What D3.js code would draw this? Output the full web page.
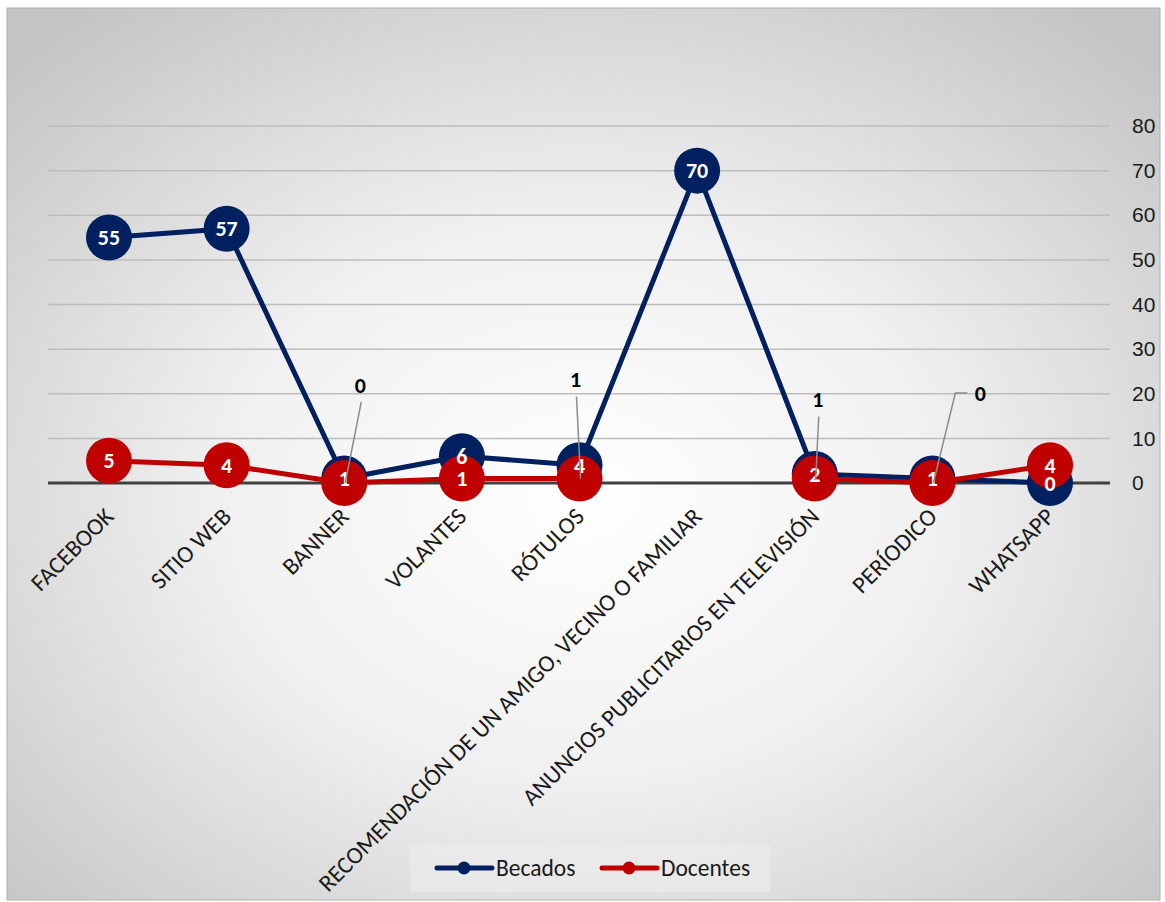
<!DOCTYPE html>
<head>
<meta charset="utf-8">
<title>Medios</title>
<style>
body { margin: 0; font-family: Carlito, "Open Sans", "Liberation Sans", sans-serif; }
.grid line { stroke: #bdbdbd; stroke-width: 1.5; }
.axis text { font-size: 21px; fill: #1a1a1a; }
</style>
<script src="https://d3js.org/d3.v7.min.js"></script>
</head>
<body>
<script>
// data
var categories = ["FACEBOOK", "SITIO WEB", "BANNER", "VOLANTES", "RÓTULOS",
  "RECOMENDACIÓN DE UN AMIGO, VECINO O FAMILIAR", "ANUNCIOS PUBLICITARIOS EN TELEVISIÓN",
  "PERÍODICO", "WHATSAPP"];
var becados = [55, 57, 1, 6, 4, 70, 2, 1, 0];
var docentes = [5, 4, 0, 1, 1, null, 1, 0, 4];
var yTicks = [0, 10, 20, 30, 40, 50, 60, 70, 80];
var seriesNames = ["Becados", "Docentes"];

// label placement for docentes labels that Excel moved out of the way (px offsets)
var movedLabels = { 2: [16, -98], 4: [-4, -99], 6: [3, -79], 7: [48, -90] };

var width = 1165, height = 902;
var blue = "#002060", red = "#c00000";

var svg = d3.select("body").append("svg")
  .attr("width", width).attr("height", height);

var defs = svg.append("defs");
var grad = defs.append("radialGradient").attr("id", "bg")
  .attr("cx", "50%").attr("cy", "55%").attr("r", "70%");
grad.append("stop").attr("offset", "0%").attr("stop-color", "#ffffff");
grad.append("stop").attr("offset", "45%").attr("stop-color", "#f0f0f0");
grad.append("stop").attr("offset", "100%").attr("stop-color", "#c4c4c4");

svg.append("rect").attr("x", 7).attr("y", 8).attr("width", 1153).attr("height", 892)
  .attr("fill", "url(#bg)").attr("stroke", "#b0b0b0").attr("stroke-width", 1);

var x = d3.scalePoint().domain(categories).range([109, 1050]);
var y = d3.scaleLinear().domain([0, 80]).range([483, 126]);

// gridlines
svg.append("g").attr("class", "grid")
  .selectAll("line").data(yTicks.filter(function(d) { return d > 0; }))
  .enter().append("line")
  .attr("x1", 48).attr("x2", 1110)
  .attr("y1", function(d) { return y(d); }).attr("y2", function(d) { return y(d); });

// y axis on the right
var yAxis = d3.axisRight(y).tickValues(yTicks).tickSize(0).tickPadding(0);
var ya = svg.append("g").attr("class", "axis")
  .attr("transform", "translate(1132,0)").call(yAxis);
ya.select(".domain").remove();

// zero line
svg.append("line").attr("x1", 48).attr("x2", 1110)
  .attr("y1", y(0)).attr("y2", y(0))
  .attr("stroke", "#404040").attr("stroke-width", 3);

// x labels
svg.append("g").selectAll("text").data(categories).enter().append("text")
  .attr("transform", function(d) { return "translate(" + (x(d) + 6) + ",518) rotate(-45)"; })
  .attr("text-anchor", "end")
  .attr("font-size", "24px")
  .attr("fill", "#1a1a1a")
  .text(function(d) { return d; });

var line = d3.line()
  .defined(function(d) { return d != null; })
  .x(function(d, i) { return x(categories[i]); })
  .y(function(d) { return y(d); });

function drawSeries(vals, color) {
  svg.append("path").datum(vals)
    .attr("fill", "none").attr("stroke", color).attr("stroke-width", 5)
    .attr("stroke-linejoin", "round")
    .attr("d", line);
  svg.append("g").selectAll("circle")
    .data(vals.map(function(v, i) { return { v: v, i: i }; }).filter(function(d) { return d.v != null; }))
    .enter().append("circle")
    .attr("cx", function(d) { return x(categories[d.i]); })
    .attr("cy", function(d) { return y(d.v); })
    .attr("r", 23)
    .attr("fill", color);
}
drawSeries(becados, blue);
drawSeries(docentes, red);

// data labels
function labels(vals, moved) {
  var g = svg.append("g");
  vals.forEach(function(v, i) {
    if (v == null) return;
    var px = x(categories[i]), py = y(v);
    var off = moved && moved[i];
    if (off) {
      var lx = px + off[0], ly = py + off[1];
      var pts;
      if (off[0] > 30) pts = [[lx - 13, ly], [lx - 25, ly], [px + 1, py]];
      else pts = [[lx + 1, ly + 17], [px + 1, py]];
      g.append("path").attr("d", d3.line()(pts))
        .attr("fill", "none").attr("stroke", "#8c8c8c").attr("stroke-width", 1.5);
      g.append("text").attr("x", lx).attr("y", ly).attr("dy", "0.35em")
        .attr("text-anchor", "middle").attr("font-size", "22px").attr("font-weight", "bold")
        .attr("fill", "#000").text(v);
    } else {
      g.append("text").attr("x", px).attr("y", py).attr("dy", "0.35em")
        .attr("text-anchor", "middle").attr("font-size", "22px").attr("font-weight", "bold")
        .attr("fill", "#fff").text(v);
    }
  });
}
labels(becados, null);
labels(docentes, movedLabels);

// legend
var lg = svg.append("g");
lg.append("rect").attr("x", 410).attr("y", 845).attr("width", 360).attr("height", 47)
  .attr("fill", "#ececec").attr("opacity", 0.6);
[blue, red].forEach(function(c, i) {
  var lx = 437 + i * 165;
  lg.append("line").attr("x1", lx).attr("x2", lx + 55).attr("y1", 868).attr("y2", 868)
    .attr("stroke", c).attr("stroke-width", 5).attr("stroke-linecap", "round");
  lg.append("circle").attr("cx", lx + 27).attr("cy", 868).attr("r", 6.5).attr("fill", c);
  lg.append("text").attr("x", lx + 59).attr("y", 868).attr("dy", "0.35em")
    .attr("font-size", "23.5px").attr("fill", "#1a1a1a").text(seriesNames[i]);
});
</script>
</body>
